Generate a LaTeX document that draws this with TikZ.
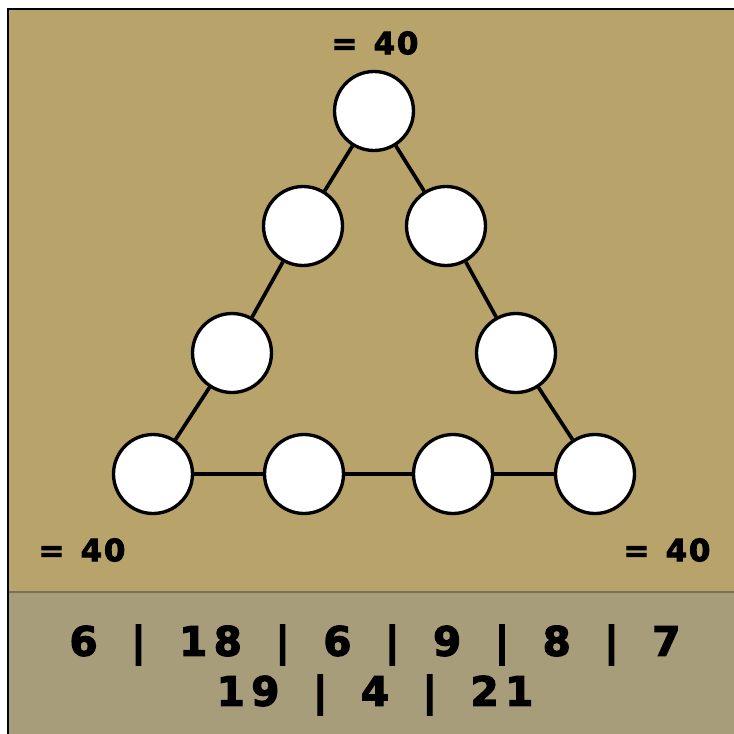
\documentclass[tikz,border=0pt]{standalone}
\usepackage{fontspec}
\setmainfont{DejaVu Sans}
\newfontfamily\totalfont[FakeBold=3,LetterSpace=6,WordSpace=1.3]{DejaVu Sans Bold}
\newfontfamily\choicefont[FakeBold=3,LetterSpace=16]{DejaVu Sans Bold}
\newcommand\barsep{\hspace{19pt}|\hspace{19pt}}
\usepackage{xcolor}
\usepackage{tikz}
\usetikzlibrary{positioning}
\definecolor{puzzletop}{HTML}{B8A46A}
\definecolor{puzzlebottom}{HTML}{A89D7A}
\definecolor{puzzleline}{HTML}{7A7056}
\tikzstyle{spot} = [circle, draw=black, line width=1.9pt, fill=white, minimum size=1.58cm, inner sep=0pt]
\tikzstyle{edge} = [line width=2.1pt, black]
\tikzstyle{total} = [font=\totalfont\fontsize{17.5}{20}\selectfont]
\tikzstyle{choices} = [font=\choicefont\fontsize{23}{27}\selectfont]

\begin{document}
\begin{tikzpicture}[x=0.02cm,y=-0.02cm]
\useasboundingbox (0,0) rectangle (734,734);
\fill[white] (0,0) rectangle (734,734);
\fill[puzzletop] (8,9) rectangle (734,592);
\fill[puzzlebottom] (8,592) rectangle (734,734);
\draw[puzzleline, line width=1.2pt] (8,592) -- (734,592);
\draw[black, line width=1.2pt] (8,734) -- (8,9) -- (734,9);

% circles of the triangle
\foreach \x/\y/\name in {374/111/top, 303/226/lefta, 446/226/righta, 232/353/leftb, 516/353/rightb,
  153/474/botl, 304/474/bota, 453/474/botb, 595/474/botr}{
  \node[spot] (\name) at (\x,\y) {};
}

\draw[edge] (top) -- (lefta);
\draw[edge] (lefta) -- (leftb);
\draw[edge] (leftb) -- (botl);
\draw[edge] (top) -- (righta);
\draw[edge] (righta) -- (rightb);
\draw[edge] (rightb) -- (botr);
\draw[edge] (botl) -- (bota);
\draw[edge] (bota) -- (botb);
\draw[edge] (botb) -- (botr);

\node[total] (sumtop) at (375,43) {= 40};
\node[total] (sumleft) at (82,550) {= 40};
\node[total] (sumright) at (667,550) {= 40};

\node[choices] (rowa) at (375,645) {6\barsep 18\barsep 6\barsep 9\barsep 8\barsep 7};
\node[choices] (rowb) at (375,695) {19\barsep 4\barsep 21};
\end{tikzpicture}
\end{document}
